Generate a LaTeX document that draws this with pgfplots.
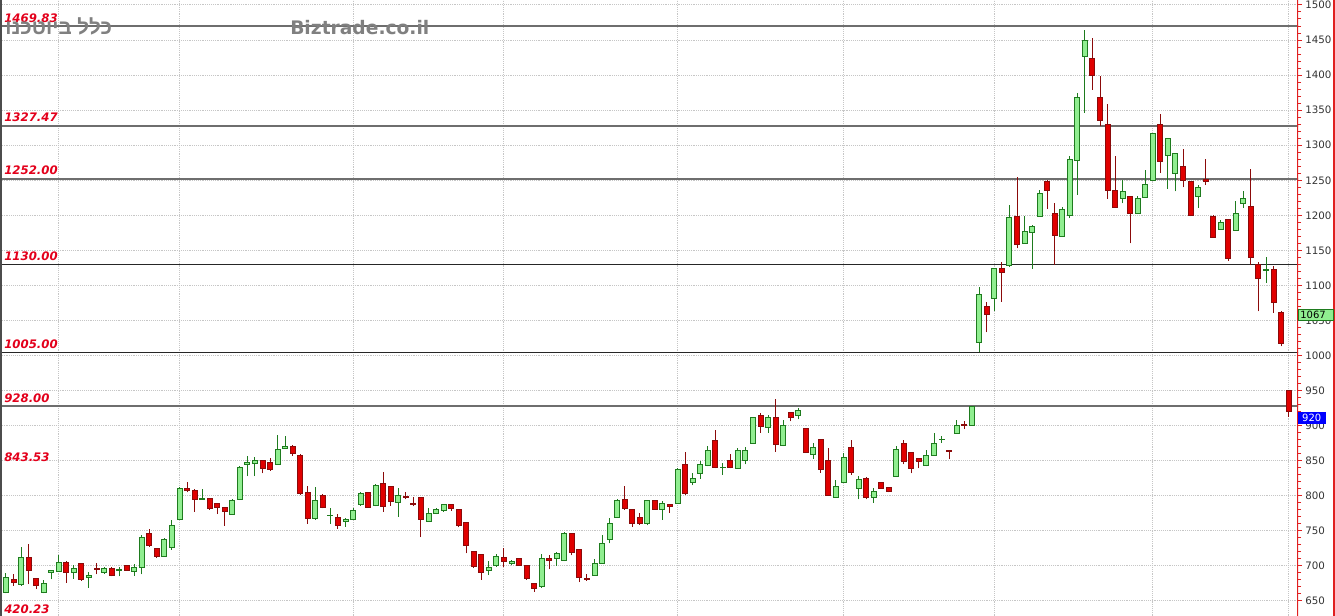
\documentclass[border=0pt]{standalone}
\usepackage{pgfplots}
\pgfplotsset{compat=1.18}
\usepackage{pgfplotstable}
\usepackage{fontspec}
\setmainfont{DejaVu Sans}
\newfontfamily\hebfont[Script=Hebrew]{Liberation Sans}
\TeXXeTstate=1

\definecolor{upfill}{HTML}{90EE90}
\definecolor{upline}{HTML}{1E7B1E}
\definecolor{dnfill}{HTML}{E00000}
\definecolor{dnline}{HTML}{8B0A0A}
\definecolor{lvlred}{HTML}{E3001B}
\definecolor{axred}{HTML}{E02020}
\definecolor{lvlgray}{HTML}{6E6E6E}

% pt per price unit: 462pt / (1507.1-628.6)
\def\ky{0.525896}

% one candle, drawn from the low of the bar
\pgfdeclareplotmark{candle}{%
  \ifdim\cDir pt<0pt
    \pgfsetstrokecolor{dnline}\pgfsetfillcolor{dnfill}%
  \else
    \pgfsetstrokecolor{upline}\pgfsetfillcolor{upfill}%
  \fi
  \pgfsetlinewidth{0.75pt}%
  \pgfpathmoveto{\pgfqpoint{0pt}{0pt}}%
  \pgfpathlineto{\pgfpoint{0pt}{\cHL pt}}%
  \pgfusepath{stroke}%
  \pgfpathrectanglecorners{\pgfpoint{-1.875pt}{\cOL pt}}{\pgfpoint{1.875pt}{\cCL pt}}%
  \pgfusepath{fill,stroke}%
}

\pgfplotstableread{
i o h l c
1 662 690 661 683
2 681 688 672 677
3 673 727 672 712
4 712 731 674 694
5 682 682 667 672
6 662 680 661 675
7 690 694 681 693
8 692 716 692 705
9 705 707 676 691
10 690 701 682 696
11 704 704 679 680
12 684 692 669 686
13 697 704 688 695
14 690 698 689 696
15 696 698 685 686
16 693 698 685 695
17 700 700 693 694
18 692 703 686 698
19 698 744 688 741
20 746 753 727 729
21 725 726 712 713
22 714 740 713 738
23 726 765 723 757
24 766 813 765 811
25 811 820 805 808
26 808 809 777 795
27 795 809 795 796
28 796 797 780 782
29 789 790 774 783
30 783 784 757 777
31 774 795 773 794
32 795 843 794 841
33 844 857 828 847
34 846 855 828 851
35 850 851 832 839
36 847 854 836 837
37 845 887 844 866
38 868 885 867 871
39 871 872 857 861
40 858 859 801 803
41 805 814 760 767
42 767 813 766 793
43 800 803 782 783
44 772 783 760 772.5
45 769 774 753 758
46 763 769 756 766
47 766 782 765 779
48 787 806 786 803
49 805 806 783 784
50 786 817 785 815
51 817 834 777 785
52 813 813 786 792
53 791 811 770 800
54 799 806 795 798
55 789 798 785 788
56 798 798 741 766
57 764 782 764 775
58 775 783 774 781
59 779 789 777 788
60 788 788 779 782
61 780 780 755 757
62 762 762 718 729
63 721 722 697 699
64 716 717 680 690
65 693 707 687 698
66 700 717 699 713
67 712 725 699 706
68 704 709 701 707
69 710 710 700 701
70 700 700 680 682
71 675 676 663 668
72 670 717 669 710
73 711 716 695 708
74 710 720 700 718
75 708 749 707 746
76 746 746 715 719
77 724 724 677 683
78 682 688 679 680
79 686 710 686 704
80 704 744 704 732
81 738 768 732 761
82 769 795 769 793
83 795 814 780 782
84 781 781 756 761
85 769 775 759 760
86 760 794 758 793
87 793 794 780 781
88 781 793 766 789
89 788 788 776 785
90 789 839 789 838
91 845 863 801 804
92 819 833 815 824
93 832 850 824 844
94 843 871 842 864
95 879 894 839 840
96 840 847 830 841
97 850 859 839 840
98 839 868 839 864
99 850 870 845 865
100 875 912 875 912
101 915 918 890 899
102 898 915 890 912
103 912 938 863 873
104 872 908 871 900
105 919 919 906 912
106 915 925 909 921
107 896 896 861 862
108 859 875 853 869
109 881 881 833 838
110 850 868 800 801
111 798 823 798 813
112 819 861 818 855
113 869 879 830 833
114 811 828 795 823
115 825 827 795 797
116 798 811 790 806
117 819 819 810 811
118 812 813 805 806
119 828 871 828 866
120 875 879 845 849
121 862 862 832 839
122 853 853 839 849
123 843 865 842 858
124 858 889 858 875
125 880 885 876 880.5
126 865 865 852 863
127 889 908 889 900
128 901 906 895 900
129 900 928 900 927
130 1019 1098 1005 1087
131 1070 1077 1033 1059
132 1082 1125 1063 1124
133 1124 1134 1077 1119
134 1128 1215 1127 1197
135 1198 1254 1153 1158
136 1160 1199 1160 1177
137 1175 1186 1124 1184
138 1199 1236 1198 1231
139 1248 1250 1209 1235
140 1203 1218 1129 1171
141 1170 1212 1169 1209
142 1200 1284 1196 1280
143 1278 1375 1229 1368
144 1427 1464 1346 1449
145 1423 1453 1379 1399
146 1368 1399 1327 1335
147 1330 1359 1224 1236
148 1235 1284 1211 1211
149 1224 1250 1217 1234
150 1227 1227 1160 1203
151 1203 1228 1203 1224
152 1225 1265 1225 1244
153 1249 1317 1249 1316
154 1329 1344 1261 1277
155 1286 1310 1238 1309
156 1260 1288 1234 1288
157 1269 1294 1240 1250
158 1248 1249 1199 1200
159 1227 1243 1211 1240
160 1251 1281 1243 1248
161 1199 1200 1168 1169
162 1180 1193 1179 1190
163 1194 1195 1135 1139
164 1179 1220 1179 1203
165 1217 1234 1211 1224
166 1212 1266 1129 1140
167 1130 1134 1063 1110
168 1121 1140 1104 1123
169 1123 1128 1061 1075
170 1062 1064 1013 1017
171 950 950 913 920
}\candles

\begin{document}
\begin{tikzpicture}[
  lvl/.style={anchor=base west, inner sep=0pt, yshift=3pt, text=lvlred,
    font=\fontsize{8.8}{10}\selectfont\bfseries\itshape}]
\begin{axis}[
  at={(0,0)}, anchor=south west,
  scale only axis, width=973.5pt, height=462pt,
  xmin=0.2048, xmax=172.24, ymin=628.6, ymax=1507.1,
  axis line style={draw=none},
  xtick={8,24,47,67,90,112,132,153,171}, xticklabels={},
  xtick style={draw=none},
  ytick={650,700,...,1500}, minor y tick num=4,
  ytick pos=right, yticklabel pos=right,
  tick align=outside, major tick length=3pt, minor tick length=2.25pt,
  ytick style={axred, line width=0.75pt},
  yticklabel style={font=\fontsize{7.7}{9}\selectfont, text=black!80, xshift=-1pt},
  /pgf/number format/assume math mode=true,
  /pgf/number format/1000 sep={},
  grid=major,
  major grid style={gray!45, densely dotted, line width=0.75pt},
  clip=true,
]
% support / resistance levels
\addplot[lvlgray, line width=1.1pt] coordinates {(0,1469.83) (173,1469.83)};
\addplot[lvlgray, line width=1.1pt] coordinates {(0,1327.47) (173,1327.47)};
\addplot[lvlgray, line width=1.1pt] coordinates {(0,1252) (173,1252)};
\addplot[black!85, line width=0.75pt] coordinates {(0,1130) (173,1130)};
\addplot[black!85, line width=0.75pt] coordinates {(0,1005) (173,1005)};
\addplot[lvlgray, line width=1.1pt] coordinates {(0,928) (173,928)};

\addplot[scatter, only marks, mark=candle,
  scatter/@pre marker code/.code={\pgfscope},
  scatter/@post marker code/.code={\endpgfscope},
  visualization depends on={\ky*(\thisrow{h}-\thisrow{l}) \as \cHL},
  visualization depends on={\ky*(\thisrow{o}-\thisrow{l}) \as \cOL},
  visualization depends on={\ky*(\thisrow{c}-\thisrow{l}) \as \cCL},
  visualization depends on={\thisrow{c}-\thisrow{o} \as \cDir},
] table[x=i, y=l] {\candles};

\node[lvl] at (axis cs:0.735,1469.83) {1469.83};
\node[lvl] at (axis cs:0.735,1327.47) {1327.47};
\node[lvl] at (axis cs:0.735,1252) {1252.00};
\node[lvl] at (axis cs:0.735,1130) {1130.00};
\node[lvl] at (axis cs:0.735,1005) {1005.00};
\node[lvl] at (axis cs:0.735,928) {928.00};
\node[lvl] at (axis cs:0.735,843.53) {843.53};
\node[lvl, yshift=-1pt] at (axis cs:0.735,628.6) {420.23};

\draw[axred, line width=1.5pt] (rel axis cs:1,0) -- (rel axis cs:1,1);
\coordinate (p1067) at (axis cs:172.24,1067);
\coordinate (p920) at (axis cs:172.24,920);
\end{axis}

% frame pieces
\draw[black!70, line width=1.5pt] (0.6pt,0) -- (0.6pt,462pt);
\draw[axred, line width=1.5pt] (1000.3pt,0) -- (1000.3pt,462pt);

% last price tags
\node[anchor=north west, fill=upfill, draw=upline, line width=0.5pt,
  inner xsep=1.5pt, inner ysep=0pt, minimum height=8.25pt,
  text width=23.5pt, align=left, font=\fontsize{7.5}{8}\selectfont, text=black]
  at (p1067) {1067};
\node[anchor=north west, fill=blue, draw=blue, line width=0.5pt,
  inner xsep=1.5pt, inner ysep=0pt, minimum height=8.25pt,
  text width=17pt, align=center, font=\fontsize{7.5}{8}\selectfont, text=white]
  at (p920) {920};

% watermarks
\node[anchor=base west, inner sep=0pt, text=black!50,
  font=\fontsize{14}{16}\selectfont\bfseries] at (217.5pt,435.75pt) {Biztrade.co.il};
\node[anchor=base west, inner sep=0pt, text=black!50,
  font=\hebfont\bfseries\fontsize{15.5}{17}\selectfont] at (3.75pt,435.75pt) {\beginR כלל ביוטכנו\endR};

\pgfresetboundingbox
\path[use as bounding box] (0,0) rectangle (1001.25pt,462pt);
\end{tikzpicture}
\end{document}
